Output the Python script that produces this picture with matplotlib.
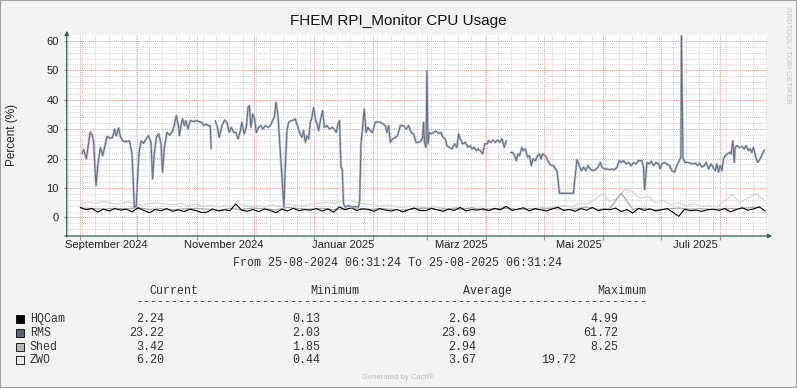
#!/usr/bin/env python3
# -*- coding: utf-8 -*-
"""
plot.py - FHEM RPI_Monitor CPU usage, one year, Cacti/RRDtool look.
"""

import numpy as np
import pandas as pd
import matplotlib
matplotlib.use("Agg")
import matplotlib.pyplot as plt
import matplotlib.dates as mdates
from matplotlib.patches import Rectangle

W, H = 797, 388
START = pd.Timestamp("2024-08-25 06:31:24")
END = pd.Timestamp("2025-08-25 06:31:24")

# RMS: (days since START, percent), nan = gap
rms_days = [
    7.8, 8.7, 10.1, 12.1, 13.3, 13.9, 15.1, 16.2, 17.4, 18.6, 20.0, 20.9, 22.6, 23.8,
    24.8, 25.7, 26.9, 27.8, 29.2, 31.3, 32.6, 33.9, 35.1, 36.1, 37.0, 37.7, 38.7, 39.9,
    41.3, 42.5, 43.8, 44.6, 45.5, 46.6, 47.8, 49.0, 49.8, 50.7, 52.1, 53.5, 54.7, 55.9,
    57.0, 58.2, 58.6, 59.6, 60.3, 61.2, 62.0, 63.1, 64.3, 66.0, 67.8, 69.0, 70.4, 71.2,
    72.5, 73.8, 74.7, 75.2, 75.8, 77.3, 78.2, 79.4, 80.8, 82.2, 83.4, 84.6, 85.7, 86.9,
    88.1, 89.2, 90.4, 91.2, 92.4, 93.5, 94.4, 95.1, 95.9, 96.8, 97.7, 98.7, 99.9, 101.2,
    102.0, 103.4, 104.8, 106.0, 107.2, 108.1, 109.0, 110.0, 111.2, 112.1, 113.1, 113.8,
    114.7, 115.5, 116.9, 118.2, 119.0, 120.2, 121.3, 122.5, 123.4, 124.3, 125.1, 126.0,
    126.9, 127.7, 128.6, 129.5, 130.4, 131.2, 132.1, 133.3, 134.2, 135.6, 136.9, 138.2,
    139.4, 140.4, 141.3, 142.1, 142.9, 143.5, 144.2, 145.1, 146.8, 148.6, 150.3, 152.0,
    152.6, 153.3, 154.1, 155.0, 155.9, 156.9, 158.1, 159.3, 160.7, 161.9, 163.4, 164.8,
    166.0, 166.8, 167.7, 168.6, 169.8, 171.2, 172.4, 173.8, 175.5, 176.9, 178.1, 179.5,
    180.7, 182.0, 183.3, 184.7, 185.4, 185.9, 186.4, 187.2, 187.7, 188.2, 188.9, 190.0,
    191.1, 192.4, 193.8, 195.0, 196.0, 197.2, 198.1, 199.3, 200.7, 202.1, 203.3, 204.2,
    205.1, 206.3, 207.7, 209.1, 210.3, 211.2, 212.4, 213.4, 214.3, 215.5, 216.7, 217.8,
    219.0, 219.8, 221.1, 222.1, 223.3, 224.5, 225.6, 226.8, 228.0, 229.1, 229.8, 231.2,
    232.3, 233.4, 234.3, 235.1, 236.0, 237.2, 237.8, 239.0, 240.2, 241.2, 242.1, 243.0,
    244.2, 245.4, 246.4, 247.1, 248.0, 249.4, 250.3, 251.6, 252.9, 253.7, 254.6, 255.5,
    256.8, 264.1, 264.7, 265.9, 267.1, 268.2, 269.4, 270.6, 271.6, 272.8, 274.3, 275.4,
    276.9, 278.1, 278.9, 280.1, 281.6, 282.9, 284.2, 285.5, 286.8, 288.0, 289.0, 290.2,
    291.6, 292.8, 294.1, 295.4, 296.7, 298.0, 298.9, 299.8, 300.6, 301.2, 302.4, 303.6,
    304.7, 305.9, 307.1, 308.5, 309.3, 310.2, 311.4, 312.8, 314.2, 315.4, 316.8, 318.0,
    319.2, 320.1, 320.4, 321.2, 322.4, 323.8, 325.0, 326.2, 327.6, 328.8, 329.9, 331.1,
    332.3, 333.3, 334.5, 335.8, 336.8, 338.0, 338.9, 339.7, 340.6, 341.5, 342.3, 343.2,
    344.4, 345.5, 346.3, 347.2, 347.9, 348.4, 349.3, 350.5, 351.9, 353.1, 354.1, 355.3,
    356.2, 357.1, 357.9, 359.2, 360.2, 361.4, 362.6, 363.7,
]
rms_vals = [
    21.6, 23.0, 20.0, 29.0, 27.8, 25.5, 10.8, 18.3, 23.8, 21.0, 25.0, 27.5, 26.9, 27.2,
    30.0, 27.8, 30.4, 27.5, 25.9, 25.8, 26.0, 21.6, 3.5, 3.7, 16.0, 22.7, 26.0, 25.2,
    26.7, 27.8, 25.5, 13.1, 21.6, 27.2, 28.4, 25.0, 15.4, 23.3, 28.9, 28.0, 28.9, 31.2,
    34.6, 30.6, 27.8, 31.8, 33.5, 31.2, 32.9, 30.0, 32.9, 32.6, 32.9, 32.5, 32.3, 31.2,
    31.8, 31.2, 31.2, 23.3, np.nan, 32.9, 31.2, 27.2, 31.2, 33.1, 32.3, 28.9, 30.6, 28.9,
    28.9, 26.7, 29.5, 32.3, 28.4, 30.6, 37.4, 38.0, 30.6, 35.1, 34.0, 28.9, 30.6, 31.2,
    30.0, 31.2, 30.6, 31.2, 32.9, 34.0, 39.1, 34.6, 22.7, 13.7, 3.5, 17.0,
    29.5, 32.3, 32.9, 33.1, 33.5, 31.2, 28.9, 27.2, 29.5, 25.5, 27.8, 26.7,
    32.3, 34.0, 37.4, 33.5, 31.8, 29.5, 32.9, 36.3, 30.6, 31.2, 30.0, 30.6,
    30.0, 28.9, 31.8, 32.9, 17.0, 16.5, 4.6, 3.5, 4.0, 3.5, 3.7, 3.5,
    5.8, 25.0, 30.6, 36.8, 28.9, 30.6, 29.5, 28.9, 32.3, 32.5, 32.3, 31.8,
    31.2, 28.9, 31.2, 25.5, 26.7, 27.2, 27.8, 31.2, 31.2, 30.0, 31.2, 28.9,
    28.4, 25.5, 25.5, 26.1, 27.2, 32.3, 25.5, 23.8, 49.8, 25.0, 28.9, 28.4,
    28.9, 29.3, 28.6, 28.9, 27.2, 26.7, 24.4, 23.8, 23.3, 25.0, 23.8, 28.4,
    26.7, 25.0, 25.5, 23.8, 24.4, 23.3, 23.8, 22.7, 23.3, 22.7, 21.6, 25.0,
    25.0, 26.1, 25.5, 26.3, 25.5, 26.3, 25.5, 26.7, 23.8, 26.1, np.nan, 22.1,
    22.1, 21.0, 19.3, 21.6, 21.0, 23.8, 22.7, 23.3, 20.4, 21.0, 17.6, 19.9,
    19.3, 21.0, 21.6, 19.9, 21.6, 21.0, 19.9, 18.2, 17.6, 17.6, 16.5, 15.9,
    8.2, 8.2, 12.5, 19.6, 17.6, 15.9, 17.1, 15.9, 17.6, 16.5, 15.9, 16.2,
    17.1, 18.7, 17.1, 16.5, 16.5, 16.2, 16.5, 16.2, 17.1, 19.3, 18.7, 19.3,
    18.2, 18.7, 17.6, 18.7, 18.2, 19.3, 19.3, 19.3, 17.1, 9.5, 18.7, 18.2,
    19.1, 17.6, 18.7, 18.2, 16.5, 18.2, 18.7, 18.2, 17.6, 15.9, 15.4, 17.6,
    19.3, 20.4, 61.7, 19.9, 18.7, 18.7, 18.4, 18.2, 18.4, 17.6, 18.4, 17.1,
    17.6, 18.7, 16.5, 18.2, 17.1, 15.9, 18.2, 15.4, 17.6, 15.9, 19.9, 21.0,
    21.6, 22.1, 21.6, 26.1, 18.7, 23.8, 24.4, 23.8, 24.1, 23.3, 24.4, 22.7,
    23.3, 22.1, 23.8, 20.4, 18.7, 19.9, 21.6, 23.0,
]

# HQCam: one reading every 3 days, starting day 7
hq_first, hq_step = 7, 3
hq_vals = [
    3.4, 2.6, 3.1, 1.8, 2.9, 2.2, 3.0, 2.5, 2.8, 1.9,
    3.3, 2.4, 1.6, 2.7, 2.3, 3.0, 2.1, 2.6, 2.0, 2.8,
    2.4, 1.7, 1.8, 2.9, 2.2, 2.6, 2.3, 4.6, 2.5, 2.1,
    2.7, 2.0, 2.9, 2.4, 1.6, 2.8, 2.2, 3.1, 2.3, 2.7,
    2.5, 3.0, 2.2, 2.9, 1.8, 3.6, 2.6, 3.3, 2.4, 2.9,
    2.8, 2.1, 3.0, 2.5, 2.2, 2.7, 1.9, 2.6, 3.2, 2.4,
    2.3, 3.1, 2.6, 2.1, 2.8, 2.4, 3.4, 2.2, 2.7, 2.5,
    2.9, 2.3, 3.1, 2.6, 3.8, 2.4, 2.8, 3.3, 2.2, 3.0,
    2.6, 2.2, 2.9, 3.5, 2.4, 2.7, 2.1, 3.0, 2.5, 3.4,
    2.3, 2.8, 2.6, 3.2, 2.0, 2.7, 1.5, 3.1, 2.4, 2.9,
    2.2, 2.6, 3.0, 1.7, 0.4, 2.8, 2.3, 2.5, 2.1, 2.6,
    2.8, 2.4, 3.0, 1.9, 2.7, 3.3, 2.5, 2.9, 3.6, 2.2,
]

# Shed: one reading every 6 days, starting day 7
shed_first, shed_step = 7, 6
shed_vals = [
    3.2, 3.0, 2.8, 3.1, 2.9, 3.3, 2.7, 3.0, 2.6, 2.9,
    3.1, 2.8, 2.5, 3.0, 2.7, 3.2, 2.9, 2.6, 3.4, 3.0,
    2.8, 3.1, 2.7, 2.9, 3.2, 2.6, 3.0, 2.8, 2.5, 2.9,
    3.1, 2.7, 3.0, 2.8, 3.3, 2.6, 2.9, 3.2, 2.7, 3.0,
    2.8, 3.1, 2.6, 2.9, 3.5, 2.7, 3.0, 8.2, 2.8, 3.1,
    2.6, 2.9, 3.2, 2.8, 3.0, 2.7, 3.1, 2.9, 3.3, 3.4,
]

# ZWO: one reading every 4 days, starting day 7
zwo_first, zwo_step = 7, 4
zwo_vals = [
    4.6, 5.2, 4.8, 5.5, 5.0, 4.4, 5.3, 4.9, 4.2, 4.7, 5.1, 4.5, 4.3, 4.8, 4.0, 4.4,
    3.9, 4.2, 3.6, 4.1, 3.8, 4.5, 3.7, 4.0, 3.5, 4.3, 3.8, 4.6, 4.1, 3.9, 4.4, 4.8, 5.2, 4.7,
    5.6, 5.9, 5.1, 4.6, 4.3, 3.9, 4.2, 3.7, 3.4, 3.8, 3.5, 3.2, 3.6, 3.3, 3.0, 3.4, 3.1, 2.9,
    3.2, 3.0, 2.8, 3.3, 3.1, 2.7, 3.0, 2.9, 3.4, 3.2, 3.6, 4.1, 3.5, 4.8, 4.5, 6.0, 8.0, 5.5,
    6.5, 9.7, 8.8, 6.4, 7.2, 5.0, 5.8, 4.3, 5.0, 3.9, 4.6, 3.7, 4.2, 3.6, 5.6, 7.8, 4.9, 6.7,
    8.0, 6.2,
]

legend_names = ["HQCam", "RMS", "Shed", "ZWO"]
legend_colors = ["#000000", "#5a6274", "#b4b4b4", "#ececec"]
stat_current = ["2.24", "23.22", "3.42", "6.20"]
stat_minimum = ["0.13", "2.03", "1.85", "0.44"]
stat_average = ["2.64", "23.69", "2.94", "3.67"]
stat_maximum = ["4.99", "61.72", "8.25", "19.72"]

month_labels = ["September 2024", "November 2024", "Januar 2025",
                "März 2025", "Mai 2025", "Juli 2025"]
month_label_at = ["2024-09-15", "2024-11-15", "2025-01-16",
                  "2025-03-19", "2025-05-19", "2025-07-19"]


def to_time(days):
    return START + pd.to_timedelta(np.asarray(days, dtype=float), unit="D")


def regular(first, step, vals):
    days = first + step * np.arange(len(vals))
    return to_time(days), np.asarray(vals, dtype=float)


def px(x, y):
    return x / W, 1 - y / H


plt.rcParams["font.family"] = ["Liberation Sans", "DejaVu Sans"]
MONO = ["Liberation Mono", "DejaVu Sans Mono"]

fig = plt.figure(figsize=(W / 100, H / 100), dpi=100, facecolor="#f3f3f3")
ax = fig.add_axes([67 / W, 1 - 236 / H, 700 / W, 201 / H])
ax.set_facecolor("white")

# grid
ax.set_ylim(-6.3, 62.0)
ax.set_xlim(START, END)
ax.set_yticks(range(0, 61, 10))
ax.set_yticks(range(-4, 62, 2), minor=True)
ax.xaxis.set_major_locator(mdates.MonthLocator())
ax.xaxis.set_minor_locator(mdates.WeekdayLocator(byweekday=mdates.MO))
ax.xaxis.set_major_formatter(plt.NullFormatter())
ax.grid(which="minor", color="#d4d4d4", linestyle=(0, (1, 1)), linewidth=0.7)
ax.grid(which="major", color="#eaa0a0", linestyle=(0, (1, 1)), linewidth=0.7)
ax.set_axisbelow(True)

ax.tick_params(axis="y", which="major", length=2, color="#888888",
               labelsize=8, labelcolor="#222222", pad=4)
ax.tick_params(axis="y", which="minor", length=1, color="#aaaaaa")
ax.tick_params(axis="x", which="major", length=3, color="#999999", labelsize=8)
ax.tick_params(axis="x", which="minor", length=0)
for s in ax.spines.values():
    s.set_visible(False)

# series (light ones first, RMS on top)
t, v = regular(zwo_first, zwo_step, zwo_vals)
ax.plot(t, v, color="#d6d6d6", lw=0.9)
t, v = regular(shed_first, shed_step, shed_vals)
ax.plot(t, v, color="#a8a8a8", lw=0.9)
t, v = regular(hq_first, hq_step, hq_vals)
ax.plot(t, v, color=legend_colors[0], lw=0.8)
ax.plot(to_time(rms_days), rms_vals, color="#c3c7ce", lw=1.8, solid_capstyle="butt")
ax.plot(to_time(rms_days), rms_vals, color="#667084", lw=0.8)

# month labels centred inside their month
for lab, d in zip(month_labels, month_label_at):
    ax.text(pd.Timestamp(d), -0.018, lab, transform=ax.get_xaxis_transform(),
            ha="center", va="top", fontsize=8, color="#222222")

# axis lines with arrow heads
axis_col = "#36604f"
ax.annotate("", xy=px(66.7, 28), xytext=px(66.7, 240), xycoords="figure fraction",
            textcoords="figure fraction",
            arrowprops=dict(arrowstyle="-|>", color=axis_col, lw=0.9, mutation_scale=6))
ax.annotate("", xy=px(775, 236), xytext=px(62, 236), xycoords="figure fraction",
            textcoords="figure fraction",
            arrowprops=dict(arrowstyle="-|>", color=axis_col, lw=0.9, mutation_scale=6))

# titles
fig.text(*px(398, 21), "FHEM RPI_Monitor CPU Usage", ha="center", va="center",
         fontsize=11, color="#111111")
fig.text(*px(12, 135), "Percent (%)", rotation=90, ha="center", va="center",
         fontsize=8.5, color="#222222")
fig.text(*px(788, 55), "RRDTOOL / TOBI OETIKER", rotation=270, ha="center",
         va="center", fontsize=5.5, color="#c4c4c4")
fig.text(*px(398, 377), "Generated by Cacti®", ha="center", va="center",
         fontsize=5.5, color="#bdbdbd")

# legend block (monospace, Cacti style)
mono = dict(family=MONO, fontsize=8.4, color="#333333", va="center")
fig.text(*px(233, 263), "From 25-08-2024 06:31:24 To 25-08-2025 06:31:24", **mono)
for x, head in [(149, "Current"), (310, "Minimum"), (463, "Average"), (597, "Maximum")]:
    fig.text(*px(x, 291), head, **mono)
fig.text(*px(135.7, 302), "-" * 73, **mono)

row_y = [319.3, 332.7, 346.7, 360]
max_right = [618, 618, 618, 576]
for i, name in enumerate(legend_names):
    y = row_y[i]
    fig.add_artist(Rectangle(px(16, y + 4), 8 / W, 8 / H, transform=fig.transFigure,
                             facecolor=legend_colors[i], edgecolor="#000000", lw=0.6))
    fig.text(*px(30, y), name, ha="left", **mono)
    fig.text(*px(164, y), stat_current[i], ha="right", **mono)
    fig.text(*px(320, y), stat_minimum[i], ha="right", **mono)
    fig.text(*px(476, y), stat_average[i], ha="right", **mono)
    fig.text(*px(max_right[i], y), stat_maximum[i], ha="right", **mono)

# image border
fig.add_artist(Rectangle((0, 0), 1, 1, transform=fig.transFigure, fill=False,
                         edgecolor="#a0a0a0", lw=1.5))

fig.savefig("out.png", dpi=100, facecolor=fig.get_facecolor())
